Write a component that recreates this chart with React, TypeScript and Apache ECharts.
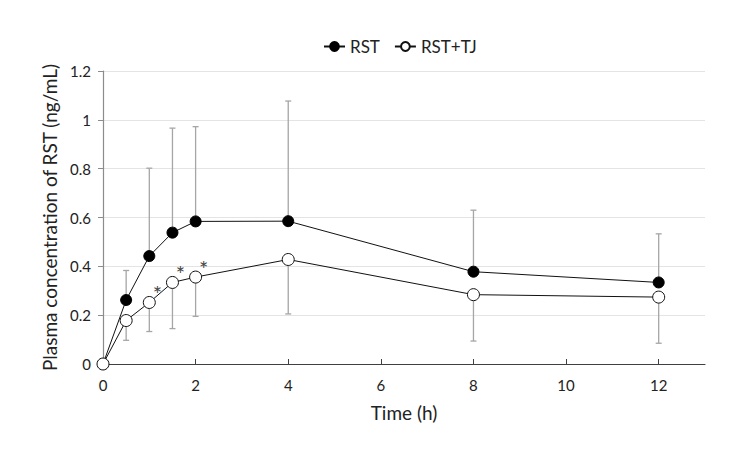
import React, { useEffect, useRef } from "react";
import * as echarts from "echarts";

const times = [0, 0.5, 1, 1.5, 2, 4, 8, 12];
const rstMean = [0, 0.262, 0.442, 0.538, 0.584, 0.585, 0.378, 0.334];
const tjMean = [0, 0.178, 0.252, 0.334, 0.356, 0.428, 0.284, 0.274];
const rstUpper = [null, 0.383, 0.802, 0.966, 0.972, 1.077, 0.63, 0.533];
const tjLower = [null, 0.097, 0.133, 0.145, 0.195, 0.205, 0.094, 0.085];
const starTimes = [1, 1.5, 2];
const xTicks = [0, 2, 4, 6, 8, 10, 12];

const FONT = "Lato";

export default function App() {
  const ref = useRef<HTMLDivElement>(null);
  useEffect(() => {
    if (!ref.current) return;
    const chart = echarts.init(ref.current, null, { renderer: "svg" });

    const errData: number[][] = [];
    times.forEach((t, i) => {
      if (rstUpper[i] != null) errData.push([t, rstMean[i], rstUpper[i] as number]);
      if (tjLower[i] != null) errData.push([t, tjLower[i] as number, tjMean[i]]);
    });

    const errorSeries = {
      type: "custom",
      name: "err",
      z: 1,
      silent: true,
      data: errData,
      encode: { x: 0, y: [1, 2] },
      renderItem: (params: any, api: any) => {
        const x = api.value(0);
        const lo = api.coord([x, api.value(1)]);
        const hi = api.coord([x, api.value(2)]);
        const w = 3;
        const style = { stroke: "#a6a6a6", lineWidth: 1.3 };
        return {
          type: "group",
          children: [
            { type: "line", shape: { x1: lo[0], y1: lo[1], x2: hi[0], y2: hi[1] }, style },
            { type: "line", shape: { x1: hi[0] - w, y1: hi[1], x2: hi[0] + w, y2: hi[1] }, style },
            { type: "line", shape: { x1: lo[0] - w, y1: lo[1], x2: lo[0] + w, y2: lo[1] }, style },
          ],
        };
      },
    };

    const tjData = times.map((t, i) => {
      const item: any = { value: [t, tjMean[i]] };
      if (starTimes.includes(t)) {
        item.label = {
          show: true,
          formatter: "*",
          position: "inside",
          offset: [8, -9],
          fontSize: 22,
          color: "#444",
          fontFamily: FONT,
        };
      }
      return item;
    });

    chart.setOption({
      animation: false,
      textStyle: { fontFamily: FONT },
      legend: {
        top: 33,
        left: 318,
        itemWidth: 21,
        itemHeight: 11,
        itemGap: 14,
        textStyle: { fontSize: 17, color: "#222", fontFamily: FONT },
        data: ["RST", "RST+TJ"],
      },
      grid: { left: 103, right: 45, top: 71, bottom: 86 },
      xAxis: {
        type: "value",
        min: 0,
        max: 13,
        interval: 2,
        name: "Time (h)",
        nameLocation: "middle",
        nameGap: 39,
        nameTextStyle: { fontSize: 19, color: "#222", fontFamily: FONT },
        axisLine: { lineStyle: { color: "#404040", width: 1.2 } },
        axisTick: { inside: true, length: 5, lineStyle: { color: "#404040" }, customValues: xTicks },
        axisLabel: { fontSize: 15, color: "#222", margin: 13, customValues: xTicks },
        splitLine: { show: false },
      },
      yAxis: {
        type: "value",
        min: 0,
        max: 1.2,
        interval: 0.2,
        name: "Plasma concentration of RST (ng/mL)",
        nameLocation: "middle",
        nameGap: 42,
        nameTextStyle: { fontSize: 19, color: "#222", fontFamily: FONT },
        axisLine: { show: true, lineStyle: { color: "#8c8c8c", width: 1.2 } },
        axisTick: { show: true, length: 5, lineStyle: { color: "#8c8c8c" } },
        axisLabel: { fontSize: 15, color: "#222", margin: 12 },
        splitLine: { lineStyle: { color: "#e4e4e4", width: 1 } },
      },
      series: [
        errorSeries,
        {
          name: "RST",
          type: "line",
          z: 3,
          data: times.map((t, i) => [t, rstMean[i]]),
          symbol: "circle",
          symbolSize: 11,
          lineStyle: { color: "#111", width: 1 },
          itemStyle: { color: "#000", borderColor: "#000", borderWidth: 1 },
        },
        {
          name: "RST+TJ",
          type: "line",
          z: 3,
          data: tjData,
          symbol: "circle",
          symbolSize: 12,
          lineStyle: { color: "#111", width: 1 },
          itemStyle: { color: "#fff", borderColor: "#111", borderWidth: 1 },
        },
      ],
    });
    return () => chart.dispose();
  }, []);
  return (
    <div
      ref={ref}
      style={{ position: "fixed", left: 0, top: 0, width: 750, height: 450, background: "#fff" }}
    />
  );
}
